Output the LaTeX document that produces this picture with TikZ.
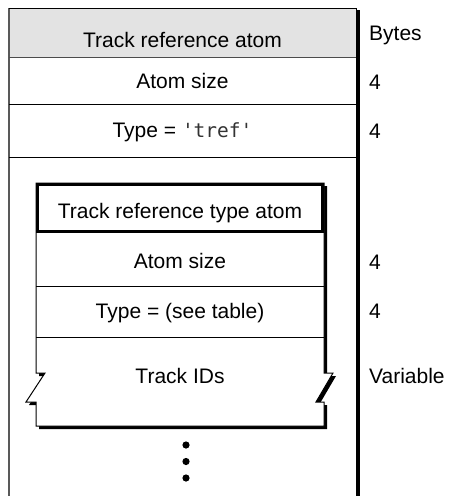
\documentclass[tikz,border=0pt]{standalone}
\usepackage{fontspec}
\setmainfont{Liberation Sans}
\newfontfamily\tymono{DejaVu Sans Mono}

\tikzset{
  field/.style={anchor=base,inner sep=0pt},
  bytes/.style={anchor=base west,inner sep=0pt},
  divider/.style={line width=1pt},
}

\begin{document}
\begin{tikzpicture}[x=1pt,y=-1pt,font=\fontsize{21}{25}\selectfont]

\useasboundingbox (0,0) rectangle (449,496);

% outer atom
\fill[black!11] (9,8) rectangle (356,57);
\fill[black] (356,10) rectangle (359.5,496);
\draw[black!65,line width=1.5pt] (9,496) -- (9,8);
\draw[line width=1pt] (9,8) -- (356,8) -- (356,496);
\draw[divider,black!70] (9,57) -- (356,57);
\draw[divider] (9,104) -- (356,104);
\draw[divider] (9,157) -- (356,157);

\path (182.5,47) node[field] (tra) {Track reference atom};
\path (182.5,88) node[field] (tra-size) {Atom size};
\path (182.5,137) node[field] (tra-type) {Type = {\tymono\fontsize{19.5}{24}\selectfont\color{black!80}'tref'}};

% inner atom with shadow
\fill[black,shift={(3,3)}] (36,183) -- (324,183) -- (324,373) -- (333,373) -- (316,402) -- (324,402)
  -- (324,426) -- (36,426) -- (36,402) -- (26,402) -- (45,373) -- (36,373) -- cycle;
\filldraw[fill=white,line width=1pt] (36,183) -- (324,183) -- (324,373) -- (333,373) -- (316,402) -- (324,402)
  -- (324,426) -- (36,426) -- (36,402) -- (26,402) -- (45,373) -- (36,373) -- cycle;
\draw[line width=3.5pt] (37.5,184.5) rectangle (322.5,231.5);
\draw[divider] (36,286) -- (324,286);
\draw[divider] (36,337) -- (324,337);

\path (180,218) node[field] (trt) {Track reference type atom};
\path (180,268) node[field] (trt-size) {Atom size};
\path (180,318) node[field] (trt-type) {Type = (see table)};
\path (180,383) node[field] (ids) {Track IDs};

\foreach \y in {445,461.5,478}
{
    \fill (186,\y) circle (3.6);
}

% byte counts
\foreach \y/\t [count=\i] in {40/Bytes,89/4,138/4,269/4,318/4,383/Variable}
{
    \node[bytes] (len\i) at (369,\y) {\t};
}

\end{tikzpicture}
\end{document}
